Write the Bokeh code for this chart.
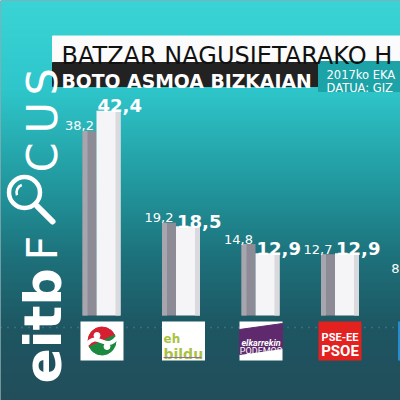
import math
import numpy as np
from bokeh.plotting import figure
from bokeh.models import Range1d
from bokeh.core.properties import value
from bokeh.embed import file_html
from bokeh.resources import INLINE

# ---- data ----
parties = ["EAJ-PNV", "EH Bildu", "Elkarrekin Podemos", "PSE-EE PSOE", "PP"]
vote_2015 = [38.2, 19.2, 14.8, 12.7, 8.7]
poll_2017 = [42.4, 18.5, 12.9, 12.9, float("nan")]
title_text = "BATZAR NAGUSIETARAKO H"
subtitle_text = "BOTO ASMOA BIZKAIAN"
note_lines = ["2017ko EKA", "DATUA: GIZ"]

# ---- layout constants ----
W = H = 400
GROUP_PX = 79.5
VAL_PX = 4.83
UX = 1 / GROUP_PX
UY = 1 / VAL_PX
PX = dict(x_range_name="px", y_range_name="px")


def fy(r):
    return 400 - r


def fmt(v):
    return "" if v != v else f"{v:.1f}".replace(".", ",")


p = figure(width=W, height=H, output_backend="svg", toolbar_location=None,
           x_range=Range1d(-101 * UX, 299 * UX), y_range=Range1d(-85 * UY, 315 * UY),
           min_border=0, x_axis_type=None, y_axis_type=None, tools="")
p.extra_x_ranges = {"px": Range1d(0, 400)}
p.extra_y_ranges = {"px": Range1d(0, 400)}
p.outline_line_color = None
p.background_fill_color = "#1e5a66"
p.border_fill_color = "#1e5a66"
p.xgrid.visible = False
p.ygrid.visible = False

# ---- background gradient ----
stops_y = [0, 90, 180, 260, 330, 400]
stops_c = [(58, 212, 214), (46, 198, 202), (34, 154, 160), (29, 112, 122), (30, 86, 98), (34, 78, 90)]
n = 400
ref_y = 400 - np.arange(n) - 0.5
img = np.zeros((n, 1), dtype=np.uint32)
view = img.view(dtype=np.uint8).reshape((n, 1, 4))
for k in range(3):
    view[:, 0, k] = np.interp(ref_y, stops_y, [c[k] for c in stops_c]).astype(np.uint8)
view[:, 0, 3] = 255
p.image_rgba(image=[img], x=0, y=0, dw=400, dh=400, **PX)

# dotted baseline row
p.line(x=[0, 400], y=[fy(327), fy(327)], line_color="#a9c4ca", line_alpha=0.45,
       line_dash="1 6", line_width=1.5, **PX)

# ---- bars ----
x = np.arange(len(parties), dtype=float)
gx = x - 12 * UX
wx = x + 7 * UX
p.vbar(x=gx, top=vote_2015, bottom=0, width=14 * UX, fill_color="#8d8c96", line_color=None)
p.vbar(x=gx - 4.5 * UX, top=vote_2015, bottom=0, width=5 * UX, fill_color="#a7a6af", line_color=None)
p.vbar(x=wx, top=poll_2017, bottom=0, width=24 * UX, fill_color="#f5f5f7", line_color=None)
p.vbar(x=wx + 9.5 * UX, top=poll_2017, bottom=0, width=5 * UX, fill_color="#d9d9de", line_color=None)

p.text(x=gx + 4.5 * UX, y=np.array(vote_2015) + 5 * UY, text=[fmt(v) for v in vote_2015],
       text_align="right", text_baseline="alphabetic", text_font=value("DejaVu Sans"),
       text_font_size="13px", text_color="white")
p.text(x=wx - 11 * UX, y=np.array(poll_2017) + 5 * UY, text=[fmt(v) for v in poll_2017],
       text_align="left", text_baseline="alphabetic", text_font=value("DejaVu Sans"),
       text_font_style="bold", text_font_size="18px", text_color="white")

# ---- party logos (category labels) ----
logo_dx = [0.5, 2.5, 0.5, 0.0, 0.0]
logo_fill = ["#ffffff", "#ffffff", "#ffffff", "#e3211f", "#1f8fd6"]
lx = x + np.array(logo_dx) * UX
p.rect(x=lx, y=fy(340.5), width=43 * UX, height=39, fill_color=logo_fill, line_color=None,
       y_range_name="px")

# PNV
c = lx[0]
p.wedge(x=[c], y=[fy(340.5)], radius=14, radius_units="screen", start_angle=math.radians(25),
        end_angle=math.radians(205), color="#d61f30", y_range_name="px")
p.wedge(x=[c], y=[fy(340.5)], radius=14, radius_units="screen", start_angle=math.radians(205),
        end_angle=math.radians(385), color="#1b8a40", y_range_name="px")
p.bezier(x0=[c - 15 * UX], y0=[fy(344)], x1=[c + 15 * UX], y1=[fy(337)],
         cx0=[c - 4 * UX], cy0=[fy(330)], cx1=[c + 4 * UX], cy1=[fy(352)],
         line_color="white", line_width=4, y_range_name="px")
p.scatter(x=[c - 5 * UX, c + 5 * UX], y=[fy(335), fy(346)], size=6, color="white",
          y_range_name="px")

# EH Bildu
c = lx[1]
p.text(x=[c - 20 * UX], y=[fy(338)], text=["eh"], text_font=value("DejaVu Sans"),
       text_font_style="bold", text_font_size="12px", text_color="#a9c23f",
       text_baseline="alphabetic", y_range_name="px")
p.text(x=[c - 20 * UX], y=[fy(353)], text=["bildu"], text_font=value("DejaVu Sans"),
       text_font_style="bold", text_font_size="14px", text_color="#a9c23f",
       text_baseline="alphabetic", y_range_name="px")
p.line(x=[c - 20 * UX, c + 18 * UX], y=[fy(357), fy(357)], line_color="#8a6fa0",
       line_width=1, y_range_name="px")

# Elkarrekin Podemos
c = lx[2]
p.patch(x=[c - 21.5 * UX, c + 21.5 * UX, c + 21.5 * UX, c - 21.5 * UX],
        y=[fy(329), fy(323), fy(348), fy(354)], color="#5e2a6d", y_range_name="px")
p.text(x=[c], y=[fy(342)], text=["elkarrekin"], text_font=value("Roboto"),
       text_font_style="bold italic", text_font_size="9px", text_color="white",
       text_align="center", text_baseline="alphabetic", y_range_name="px")
p.text(x=[c], y=[fy(350)], text=["PODEMOS"], text_font=value("Roboto"),
       text_font_size="9px", text_color="white",
       text_align="center", text_baseline="alphabetic", y_range_name="px")

# PSE-EE PSOE
c = lx[3]
p.text(x=[c], y=[fy(337)], text=["PSE-EE"], text_font=value("Roboto"),
       text_font_style="bold", text_font_size="11px", text_color="white",
       text_align="center", text_baseline="alphabetic", y_range_name="px")
p.text(x=[c], y=[fy(350)], text=["PSOE"], text_font=value("Roboto"),
       text_font_style="bold", text_font_size="15px", text_color="white",
       text_align="center", text_baseline="alphabetic", y_range_name="px")

# ---- title boxes ----
p.quad(left=52, right=400, top=fy(35.5), bottom=fy(62), color="#fbfbfb", **PX)
p.quad(left=52, right=318, top=fy(62), bottom=fy(86), color="#222222", **PX)
p.quad(left=318, right=400, top=fy(61), bottom=fy(91), color="#1ba3a7", **PX)
p.text(x=[61], y=[fy(55.5)], text=[title_text], text_font=value("DejaVu Sans"),
       text_font_size="24px", text_color="#111111", text_baseline="alphabetic", **PX)
p.text(x=[61], y=[fy(80.5)], text=[subtitle_text], text_font=value("DejaVu Sans"),
       text_font_style="bold", text_font_size="18.8px", text_color="white",
       text_baseline="alphabetic", **PX)
p.text(x=[326, 326], y=[fy(74), fy(87.5)], text=note_lines, text_font=value("DejaVu Sans"),
       text_font_size="11.5px", text_color="white", text_baseline="alphabetic", **PX)

# ---- vertical eitbFOCUS brand ----
p.text(x=[42], y=[fy(383)], text=["eitb"], angle=math.pi / 2, text_font=value("DejaVu Sans"),
       text_font_style="bold", text_font_size="52px", text_color="white",
       text_baseline="alphabetic", **PX)
p.text(x=[41], y=[fy(260)], text=["F"], angle=math.pi / 2, text_font=value("DejaVu Sans"),
       text_font_size="43px", text_color="white", text_baseline="alphabetic", **PX)
p.circle(x=[24], y=[fy(192)], radius=15.5, radius_units="screen", fill_color=None,
         line_color="white", line_width=4.5, **PX)
p.line(x=[37, 52], y=[fy(206), fy(221)], line_color="white", line_width=6,
       line_cap="round", **PX)
p.arc(x=[24], y=[fy(192)], radius=8, radius_units="screen", start_angle=math.radians(110),
      end_angle=math.radians(200), line_color="white", line_width=2.5, **PX)
p.text(x=[41, 41, 41], y=[fy(172), fy(133), fy(95)], text=["C", "U", "S"], angle=math.pi / 2,
       text_font=value("DejaVu Sans"), text_font_size="43px", text_color="white",
       text_baseline="alphabetic", **PX)

open("out.html", "w").write(file_html(p, INLINE))
